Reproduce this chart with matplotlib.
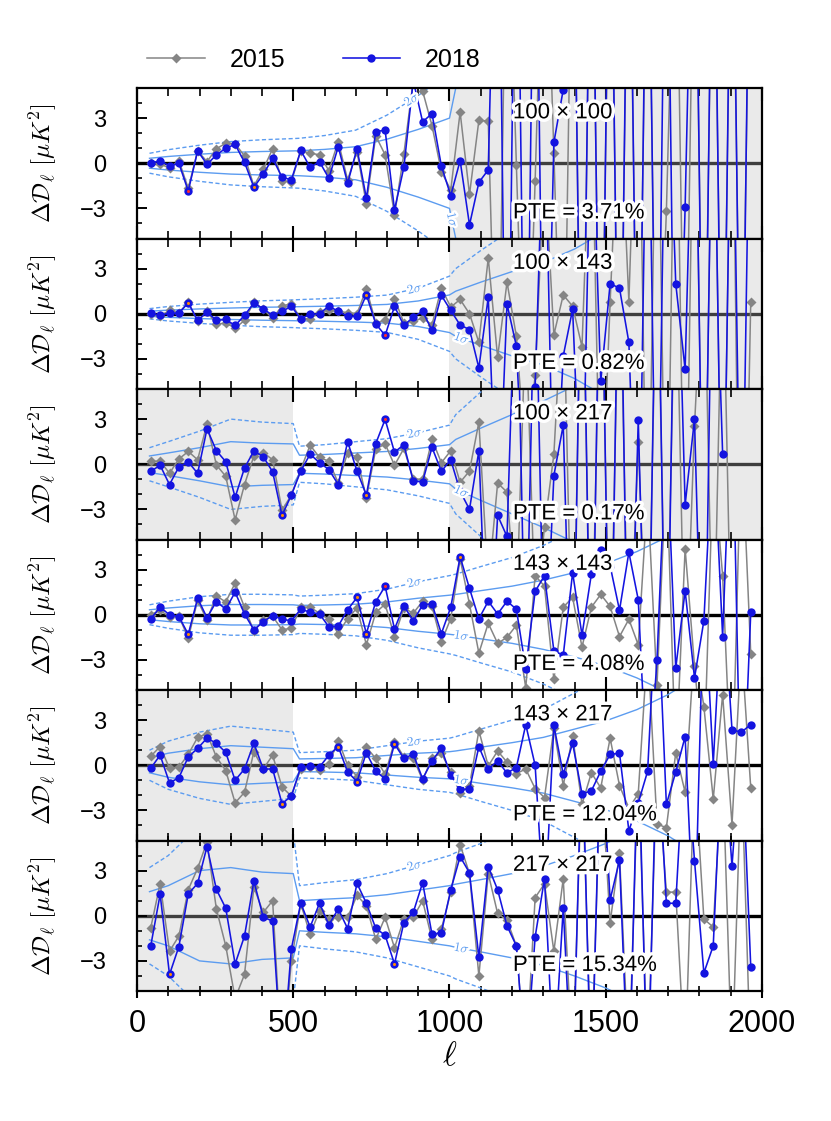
import numpy as np
import matplotlib
matplotlib.use('Agg')
import matplotlib.pyplot as plt
from matplotlib.ticker import MultipleLocator
from matplotlib.lines import Line2D
import matplotlib.patheffects as pe

plt.rcParams['font.family'] = ['Liberation Sans Narrow', 'Liberation Sans', 'DejaVu Sans']
plt.rcParams['mathtext.fontset'] = 'cm'

nan = float('nan')

# multipole bin centres (Delta ell = 30)
ell = np.arange(44, 1965, 30)

spectra = ['100 × 100', '100 × 143', '100 × 217', '143 × 143', '143 × 217', '217 × 217']
pte = ['3.71', '0.82', '0.17', '4.08', '12.04', '15.34']

# ---- 2015 residuals (grey diamonds) ----
d2015_100x100 = [0.0, -0.04, -0.33, 0.18, -1.67, 0.82, 0.11, 0.96, 1.33, 1.29,
                 0.49, -1.51, -0.4, 0.96, -1.16, -1.22, 0.82, 0.67, 0.56, -0.49,
                 1.44, -1.11, 0.78, -2.71, 1.82, 0.56, -3.44, 0.62, 5.5, 4.8,
                 2.5, -0.55, -1.78, 3.4, -2.07, 2.85, 2.8, -20, 20, -0.1,
                 -20, -1.2, 20, 0.7, -20, 20, -20, 20, -20, 20,
                 -20, 20, -20, 20, -20, -3.2, 20, -20, 20, -20,
                 20, -20, 20, -20, 20]
d2015_100x143 = [0.0, -0.16, 0.22, 0.07, 0.75, -0.51, 0.16, -0.71, -0.6, -0.96,
                 -0.44, 0.78, 0.29, -0.29, 0.51, 0.67, -0.33, -0.33, 0.11, 0.22,
                 0.16, 0.07, 0.0, 1.67, -0.6, -0.44, 1.0, -0.6, -0.51, -0.29,
                 -0.73, 1.71, 0.44, 0.95, 0.0, -1.9, 3.7, -2.9, 2.1, -1.5,
                 -10, -4.1, 10, -1.4, 1.25, 0.5, -2.2, 15, -15, 0.75,
                 15, 0.8, 20, -20, 20, -20, 20, -20, 20, -20,
                 20, -20, 20, -30, 0.8]
d2015_100x217 = [0.2, 0.2, -0.6, 0.35, 0.85, 0.3, 2.67, -0.05, -0.8, -3.7,
                 -1.35, 0.55, 0.78, 0.3, -3.05, -2.05, -0.35, 1.27, 0.45, 0.2,
                 -1.25, 0.78, 0.45, -2.25, 1.0, 1.35, -0.07, 1.05, -0.97, -1.0,
                 1.65, 0.1, 0.9, -1.2, -0.45, 2.8, -8, -1.25, -1.85, -10,
                 10, -10, -4.2, 0.67, 12, -15, 15, -15, 15, -15,
                 15, -15, 1.5, -15, 15, -15, 15, -15, 2.55, 15,
                 -15, 15, -15, nan, nan]
d2015_143x143 = [0.0, 0.3, -0.15, -0.1, -1.55, 0.95, -0.35, 1.25, 0.85, 2.1,
                 0.5, -1.1, -0.35, -0.1, -1.0, -0.9, 0.5, 0.5, 0.1, -0.3,
                 -1.25, -0.25, 0.45, -2.0, 0.15, 0.7, -1.45, 0.45, 0.1, 0.9,
                 0.55, -1.8, -0.25, 3.7, 0.7, -2.55, -0.57, -1.9, -1.5, -0.7,
                 -4.85, 2.6, 1.9, -4.3, 0.5, 1.15, -2.15, 0.5, 1.35, 0.55,
                 -1.45, -0.3, -2.0, 8, -4.7, 10, -10, 4.4, -3.4, -10,
                 10, 2.6, -12, 12, -2.6]
d2015_143x217 = [0.6, 1.24, -0.2, -0.12, 0.72, 1.85, 2.1, 0.55, -0.35, -2.5,
                 -1.8, 0.9, -0.25, 0.67, -1.45, -2.05, -0.25, -0.12, -0.3, 0.1,
                 1.64, 0.0, -0.75, 1.2, 0.45, -0.6, 1.57, 0.55, 0.5, -1.0,
                 0.5, 0.8, -0.45, -1.85, -1.35, 2.3, -0.05, 0.95, 0.2, -0.55,
                 -0.25, -1.55, -2.15, 2.45, -1.35, 1.95, -2.6, -0.5, -1.5, 1.8,
                 -1.35, -2.85, -1.9, 8, -3.9, -4.15, 0.83, -1.8, 8, 3.9,
                 -2.25, 4.7, -3.95, 8, -1.5]
d2015_217x217 = [-0.8, 2.13, -2.36, -1.35, 1.73, 3.15, 4.9, 0.45, -2.0, -5.5,
                 -3.9, 1.9, 0.22, 1.0, -10, -3.0, 0.8, -1.24, 0.33, -0.22,
                 -0.1, -0.1, 1.35, 0.67, -1.57, -0.1, -2.13, -0.22, -0.1, 1.0,
                 -1.57, -0.9, 1.57, 4.72, 2.8, -4.0, 2.8, 0.15, -0.3, -2.0,
                 -10, 1.2, 2.13, -2.36, 2.47, -10, 10, -10, 10, -0.45,
                 4.15, -10, 10, -10, 10, 1.57, 1.57, -10, 10, -0.22,
                 -0.75, 10, -10, 10, -10]

# ---- 2018 residuals (blue circles) ----
d2018_100x100 = [0.0, 0.18, -0.18, 0.0, -1.85, 0.82, -0.07, 0.55, 1.0, 1.25,
                 0.07, -1.6, -0.73, 0.33, -0.93, -1.1, 0.85, -0.27, 0.1, -1.0,
                 1.1, -1.33, 0.98, -2.33, 2.1, 2.2, -3.1, -0.27, 5.5, 2.75,
                 3.3, -0.18, -2.15, 0.18, -4.1, -1.27, -0.44, 25, -25, 25,
                 -25, 25, -25, 1.38, 4.9, 25, -25, 25, -25, 25,
                 -25, 25, -25, 25, -25, 25, -25, -2.93, 25, -25,
                 25, -25, 25, -25, 25]
d2018_100x143 = [0.04, -0.1, 0.04, 0.04, 0.73, -0.44, 0.11, -0.44, -0.38, -0.78,
                 -0.11, 0.71, 0.33, -0.11, 0.16, 0.49, -0.33, -0.04, 0.0, 0.51,
                 0.16, -0.18, -0.18, 1.27, -0.67, -1.44, 0.49, -0.78, -0.22, 0.16,
                 -1.11, 1.22, 0.22, -0.75, -1.05, -3.6, 1.1, -15, 0.65, -2.15,
                 -15, -4.85, 15, -15, -2.8, 0.3, -15, 15, -4.5, 2.0,
                 1.7, -1.9, -20, 20, -20, 20, 2.0, -3.7, 20, -20,
                 20, -20, 20, -20, 20]
d2018_100x217 = [-0.47, -0.07, -1.35, -0.18, 0.15, -0.6, 2.35, 0.9, 0.17, -2.2,
                 -0.25, 0.88, 0.5, -0.5, -3.4, -2.05, -0.45, 0.67, 0.1, -0.35,
                 -1.35, 1.5, -0.45, -2.05, 1.37, 2.98, 0.8, 1.3, -1.12, -1.17,
                 1.12, -0.47, 0.3, -1.8, -3.0, 0.9, -15, -3.4, -4.8, 15,
                 -15, 15, -15, -0.75, 2.6, -20, 20, -20, 20, -20,
                 20, -20, 2.95, -20, 20, -20, 20, -2.7, 3.0, -20,
                 20, 0.7, nan, nan, nan]
d2018_143x143 = [-0.27, 0.5, 0.0, -0.12, -1.3, 1.1, -0.2, 0.88, 0.37, 1.5,
                 0.05, -1.0, -0.47, -0.05, -0.3, -0.4, 0.37, 0.17, 0.05, -0.8,
                 -0.75, 0.33, 1.15, -1.25, 0.87, 1.9, -0.95, 0.6, -0.42, 0.65,
                 0.72, -1.25, 0.5, 3.85, 1.75, -0.27, 0.9, 0.05, 0.9, 0.37,
                 -3.6, 1.55, 2.6, -2.4, -2.7, 2.8, -1.35, 2.7, 4.3, 3.25,
                 0.3, 4.15, 1.0, -12, -3.0, 12, -3.55, 1.6, -4.2, -0.4,
                 12, -1.45, 15, -15, 0.15]
d2018_143x217 = [-0.2, 0.67, -1.17, -0.83, 0.55, 1.12, 1.8, 1.46, 0.85, -1.0,
                 -0.25, 1.46, -0.25, -0.25, -2.55, -2.05, -0.12, -0.05, -0.12, 0.67,
                 1.24, -0.45, -1.08, 0.83, -0.4, -0.9, 1.42, 0.45, 0.74, -0.9,
                 0.29, 1.12, -0.67, -1.6, -1.6, 1.24, -0.25, 0.29, -0.52, -0.15,
                 2.7, 0.0, -10, 2.65, -0.6, 1.46, -1.9, -1.7, -0.4, 0.72,
                 0.8, -4.35, -2.5, -0.4, 12, -2.6, -0.45, 1.9, -12, 12,
                 0.1, 12, 2.35, 2.2, 2.7]
d2018_217x217 = [-2.0, 1.42, -3.9, -2.05, 1.45, 2.15, 4.6, 1.75, 0.5, -3.2,
                 -1.35, 2.3, -0.1, -0.35, -10, -2.2, 0.85, -0.75, 0.83, -0.6,
                 0.45, -0.85, 2.15, 0.83, -0.83, -1.3, -3.2, -0.45, 0.22, 2.2,
                 -1.24, -1.12, 1.73, 3.93, 2.85, -2.76, 3.26, 1.73, -0.67, -2.0,
                 -10, -1.42, 2.47, -10, 0.52, -12, 12, -12, 12, 1.06,
                 3.7, -12, 12, -12, 12, 0.83, 0.83, 12, 3.66, -3.8,
                 -2.0, 12, 3.3, 12, -3.4]

# highlighted 2018 points (bin index, centre colour)
highlight = [[(4, '#ff2a2a'), (11, '#ff8c00')],
             [(4, '#ff8c00'), (23, '#ff8c00'), (25, '#ff2a2a')],
             [(14, '#ff8c00'), (23, '#ff8c00'), (25, '#ff2a2a')],
             [(4, '#ff8c00'), (22, '#ff8c00'), (23, '#ff8c00'), (25, '#ff2a2a'), (33, '#ff8c00')],
             [(14, '#ff8c00'), (20, '#ff8c00'), (22, '#ff8c00'), (26, '#ff8c00')],
             [(2, '#ff8c00'), (26, '#ff8c00')]]

# ---- 1 sigma envelope ----
env_ell = [40, 100, 200, 300, 400, 500, 520, 600, 700, 800, 900, 1000,
           1020, 1100, 1200, 1300, 1400, 1500, 1600, 1700, 1800, 1900, 2000]
sig_100x100 = [0.33, 0.45, 0.6, 0.72, 0.78, 0.82, 0.83, 0.92, 1.1, 1.6, 2.25, 3.0,
               5.0, 9, 10, 10, 10, 10, 10, 10, 10, 10, 10]
sig_100x143 = [0.17, 0.24, 0.32, 0.38, 0.43, 0.46, 0.47, 0.5, 0.55, 0.62, 0.85, 1.25,
               1.5, 2.1, 2.8, 3.4, 4.3, 5.5, 7, 9, 10, 10, 10]
sig_100x217 = [0.55, 0.75, 1.1, 1.5, 1.4, 1.35, 0.6, 0.65, 0.75, 0.85, 1.05, 1.3,
               1.65, 2.4, 3.3, 4.2, 5.2, 6.5, 8, 10, 10, 10, 10]
sig_143x143 = [0.33, 0.45, 0.6, 0.68, 0.68, 0.66, 0.62, 0.65, 0.7, 0.85, 1.1, 1.3,
               1.35, 1.6, 1.9, 2.3, 2.8, 3.4, 4.2, 5.2, 6.5, 8, 9]
sig_143x217 = [0.5, 0.8, 1.1, 1.3, 1.2, 1.1, 0.42, 0.45, 0.5, 0.65, 0.8, 0.9,
               0.95, 1.2, 1.5, 1.85, 2.4, 2.95, 3.7, 4.7, 6, 7.5, 9]
sig_217x217 = [1.6, 2.0, 3.0, 3.2, 2.9, 2.8, 1.0, 1.1, 1.2, 1.4, 1.7, 2.0,
               2.1, 2.4, 2.8, 3.3, 4.0, 4.8, 5.8, 7, 8.5, 10, 12]

# excluded multipole ranges (shaded)
shades = [[(1000, 2000)], [(1000, 2000)], [(0, 500), (1000, 2000)], [], [(0, 500)], [(0, 500)]]

d2015 = [d2015_100x100, d2015_100x143, d2015_100x217, d2015_143x143, d2015_143x217, d2015_217x217]
d2018 = [d2018_100x100, d2018_100x143, d2018_100x217, d2018_143x143, d2018_143x217, d2018_217x217]
sigmas = [sig_100x100, sig_100x143, sig_100x217, sig_143x143, sig_143x217, sig_217x217]
lab2_ell = [880, 890, 890, 890, 890, 890]
lab1_ell = [1008, 1040, 1040, 1040, 1040, 1040]

W, H = 831, 1121
fig = plt.figure(figsize=(W / 100, H / 100), dpi=100)
left_px, right_px, top_px, ph = 137, 762, 88, 150.5

blue = '#1414e0'
grey = '#858585'
env_col = '#5c9cf0'
halo = [pe.withStroke(linewidth=5, foreground='white')]
shalo = [pe.withStroke(linewidth=3.5, foreground='white')]

axes = []
for k in range(6):
    rect = [left_px / W, 1 - (top_px + ph * (k + 1)) / H, (right_px - left_px) / W, ph / H]
    ax = fig.add_axes(rect)
    axes.append(ax)
    ax.set_xlim(0, 2000)
    ax.set_ylim(-5, 5)
    ax.axhline(0, color='black', lw=2.4, zorder=1)
    for a, b in shades[k]:
        ax.axvspan(a, b, facecolor=(0.76, 0.76, 0.76), alpha=0.33, lw=0, zorder=1.5)
    s = np.array(sigmas[k])
    for sign in (1, -1):
        ax.plot(env_ell, sign * s, color=env_col, lw=1.0, zorder=2)
        ax.plot(env_ell, sign * 2 * s, color=env_col, lw=1.0, ls=(0, (3, 1.8)), zorder=2)
    ax.plot(ell, d2015[k], color=grey, lw=1.1, marker='D', ms=4.6, mec='none', zorder=3)
    ax.plot(ell, d2018[k], color=blue, lw=1.15, marker='o', ms=6.0, mec='none', zorder=4)
    yb = np.array(d2018[k])
    for i, c in highlight[k]:
        ax.plot([ell[i]], [yb[i]], ls='none', marker='o', ms=2.2, color=c, mec='none', zorder=5)

    # sigma labels on the envelope curves
    for lab, l0, fac in (('$2\\sigma$', lab2_ell[k], 2.0), ('$1\\sigma$', lab1_ell[k], -1.0)):
        y0 = fac * np.interp(l0, env_ell, s)
        p = ax.transData.transform([(l0 - 12, fac * np.interp(l0 - 12, env_ell, s)),
                                    (l0 + 12, fac * np.interp(l0 + 12, env_ell, s))])
        ang = np.degrees(np.arctan2(p[1, 1] - p[0, 1], p[1, 0] - p[0, 0]))
        ax.text(l0, y0, lab, color=env_col, fontsize=9.5, ha='center', va='center',
                rotation=ang, rotation_mode='anchor', zorder=6, path_effects=shalo, clip_on=True)

    ax.text(1203, 3.35, spectra[k], fontsize=16, ha='left', va='center', zorder=7, path_effects=halo)
    ax.text(1203, -3.3, 'PTE = ' + pte[k] + '%', fontsize=16, ha='left', va='center', zorder=7,
            path_effects=halo)

    for sp in ax.spines.values():
        sp.set_linewidth(1.6)
        sp.set_zorder(8)
    ax.set_yticks([-3, 0, 3], labels=['\u22123', '0', '3'])
    ax.yaxis.set_minor_locator(MultipleLocator(1))
    ax.tick_params(axis='y', which='both', direction='in', left=True, right=False,
                   labelsize=17, pad=22)
    ax.tick_params(axis='y', which='major', length=7, width=1.4)
    ax.tick_params(axis='y', which='minor', length=3.6, width=1.2)
    ax.set_xticks([0, 500, 1000, 1500, 2000])
    ax.xaxis.set_minor_locator(MultipleLocator(100))
    xdir = 'inout' if k == 5 else 'in'
    ax.tick_params(axis='x', which='both', direction=xdir, top=True, bottom=True)
    ax.tick_params(axis='x', which='major', length=10 if k == 5 else 9.4, width=1.5)
    ax.tick_params(axis='x', which='minor', length=7 if k == 5 else 5.8, width=1.2)
    if k == 5:
        ax.set_xticks([0, 500, 1000, 1500, 2000], labels=['0', '500', '1000', '1500', '2000'])
        ax.tick_params(axis='x', labelsize=22, pad=8)
        ax.set_xlabel('$\\ell$', fontsize=24)
        ax.xaxis.set_label_coords(0.5, -0.33)
    else:
        ax.tick_params(axis='x', labelbottom=False)
    ax.set_ylabel('$\\Delta\\mathcal{D}_\\ell\\ [\\mu K^2]$', fontsize=18)
    ax.yaxis.set_label_coords(-0.125, 0.5)

handles = [Line2D([], [], color=grey, lw=1.1, marker='D', ms=4.6, mec='none'),
           Line2D([], [], color=blue, lw=1.15, marker='o', ms=6.0, mec='none')]
fig.legend(handles, ['2015', '2018'], loc='center left', bbox_to_anchor=(147 / W, 1 - 60 / H),
           ncol=2, frameon=False, fontsize=18, handlelength=2.3, handletextpad=1.0,
           columnspacing=2.3, borderpad=0, borderaxespad=0, numpoints=1)

fig.savefig('out.png', dpi=100)
